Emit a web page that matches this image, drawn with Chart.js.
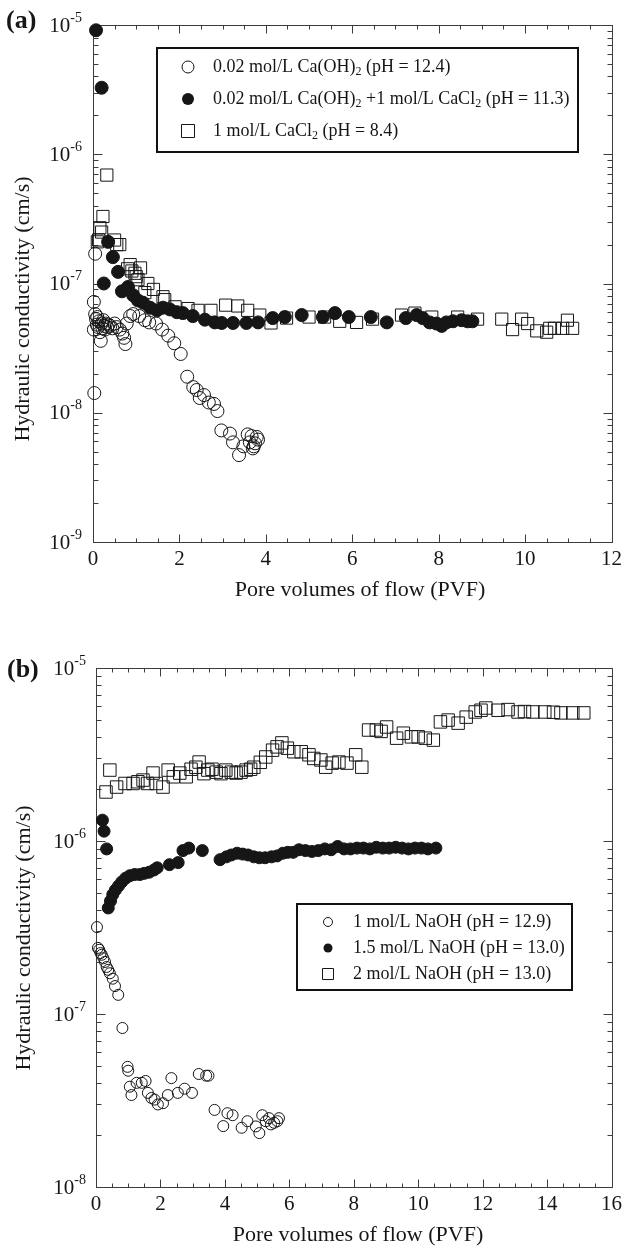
<!DOCTYPE html>
<html>
<head>
<meta charset="utf-8">
<script src="https://cdn.jsdelivr.net/npm/chart.js@4.4.1/dist/chart.umd.min.js"></script>
<style>
  html, body { margin: 0; padding: 0; background: #fff; }
  #boxA { position: absolute; left: 0; top: 0; width: 627px; height: 610px; }
  #boxB { position: absolute; left: 0; top: 610px; width: 627px; height: 637px; }
</style>
</head>
<body>
<div id="boxA"><canvas id="chartA"></canvas></div>
<div id="boxB"><canvas id="chartB"></canvas></div>
<script>
// ---- panel (a): Ca(OH)2 / CaCl2 permeants ----
const labelsA = [
  '0.02 mol/L Ca(OH)_{2} (pH = 12.4)',
  '0.02 mol/L Ca(OH)_{2} +1 mol/L CaCl_{2} (pH = 11.3)',
  '1 mol/L CaCl_{2} (pH = 8.4)'
];
const pvfA1 = [0.02, 0.05, 0.03, 0.02, 0.05, 0.07, 0.09, 0.1, 0.12, 0.14,
  0.16, 0.18, 0.2, 0.22, 0.24, 0.26, 0.28, 0.3, 0.33, 0.36,
  0.4, 0.45, 0.5, 0.55, 0.62, 0.68, 0.72, 0.75, 0.78, 0.86,
  0.93, 1.07, 1.2, 1.3, 1.46, 1.6, 1.74, 1.88, 2.03, 2.18, 2.32,
  2.4, 2.47, 2.57, 2.68, 2.8, 2.88, 2.97, 3.17, 3.24, 3.38,
  3.48, 3.58, 3.63, 3.67, 3.7, 3.72, 3.75, 3.79, 3.82];
const kA1 = [7.2e-8, 1.7e-7, 1.42e-8, 4.4e-8, 5.8e-8, 5.3e-8, 4.8e-8, 5.5e-8, 4.6e-8, 5.1e-8,
  4.2e-8, 3.6e-8, 4.9e-8, 4.5e-8, 5.2e-8, 4.7e-8, 4.4e-8, 4.9e-8, 4.6e-8, 4.8e-8,
  4.7e-8, 4.5e-8, 4.9e-8, 4.6e-8, 4.4e-8, 4.1e-8, 3.8e-8, 3.4e-8, 4.9e-8, 5.6e-8,
  5.8e-8, 5.6e-8, 5.2e-8, 5.0e-8, 4.9e-8, 4.4e-8, 3.95e-8, 3.45e-8, 2.85e-8, 1.9e-8, 1.58e-8,
  1.5e-8, 1.3e-8, 1.37e-8, 1.2e-8, 1.17e-8, 1.03e-8, 7.3e-9, 6.9e-9, 5.9e-9, 4.7e-9,
  5.5e-9, 6.8e-9, 5.9e-9, 6.6e-9, 5.3e-9, 5.5e-9, 5.8e-9, 6.5e-9, 6.2e-9];
const pvfA2 = [0.07, 0.2, 0.25, 0.35, 0.46, 0.58, 0.67, 0.81, 0.93, 1.04,
  1.16, 1.32, 1.48, 1.62, 1.78, 1.94, 2.08, 2.31, 2.59, 2.82,
  2.98, 3.24, 3.55, 3.82, 4.16, 4.44, 4.83, 5.32, 5.6, 5.92,
  6.43, 6.8, 7.24, 7.49, 7.63, 7.79, 7.95, 8.07, 8.18, 8.33,
  8.53, 8.67, 8.78];
const kA2 = [9.1e-6, 3.27e-6, 1.0e-7, 2.1e-7, 1.6e-7, 1.23e-7, 8.7e-8, 9.4e-8, 8.1e-8, 7.4e-8,
  7.1e-8, 6.5e-8, 6.2e-8, 6.5e-8, 6.3e-8, 6.0e-8, 5.9e-8, 5.6e-8, 5.25e-8, 5.0e-8,
  4.95e-8, 4.95e-8, 4.95e-8, 5.0e-8, 5.4e-8, 5.5e-8, 5.7e-8, 5.5e-8, 5.9e-8, 5.5e-8,
  5.5e-8, 5.0e-8, 5.4e-8, 5.7e-8, 5.4e-8, 5.0e-8, 4.9e-8, 4.7e-8, 5.0e-8, 5.1e-8,
  5.2e-8, 5.1e-8, 5.1e-8];
const pvfA3 = [0.1, 0.13, 0.16, 0.2, 0.23, 0.32, 0.5, 0.55, 0.62, 0.8,
  0.86, 0.9, 0.97, 1.0, 1.04, 1.1, 1.2, 1.27, 1.4, 1.62,
  1.66, 1.9, 2.2, 2.43, 2.73, 3.07, 3.35, 3.58, 3.86, 4.12,
  4.48, 5.0, 5.36, 5.71, 6.1, 6.47, 7.14, 7.45, 7.84, 8.44,
  8.9, 9.46, 9.71, 9.92, 10.06, 10.27, 10.5, 10.57, 10.68, 10.87,
  10.98, 11.1];
const kA3 = [2.1e-7, 2.17e-7, 2.7e-7, 2.5e-7, 3.3e-7, 6.9e-7, 2.17e-7, 2.0e-7, 2.0e-7, 1.3e-7,
  1.4e-7, 1.25e-7, 1.2e-7, 1.13e-7, 1.07e-7, 1.32e-7, 8.5e-8, 1.0e-7, 9.0e-8, 7.9e-8,
  7.5e-8, 6.6e-8, 6.4e-8, 6.2e-8, 6.2e-8, 6.8e-8, 6.7e-8, 6.2e-8, 5.7e-8, 4.95e-8,
  5.4e-8, 5.5e-8, 5.5e-8, 5.1e-8, 5.0e-8, 5.3e-8, 5.7e-8, 5.9e-8, 5.5e-8, 5.5e-8,
  5.3e-8, 5.3e-8, 4.4e-8, 5.3e-8, 4.9e-8, 4.3e-8, 4.2e-8, 4.5e-8, 4.5e-8, 4.5e-8,
  5.2e-8, 4.5e-8];
const decadesA = [-9, -8, -7, -6, -5];

// ---- panel (b): NaOH permeants ----
const labelsB = [
  '1 mol/L NaOH (pH = 12.9)',
  '1.5 mol/L NaOH (pH = 13.0)',
  '2 mol/L NaOH (pH = 13.0)'
];
const pvfB1 = [0.03, 0.06, 0.1, 0.14, 0.18, 0.23, 0.28, 0.33, 0.38, 0.43,
  0.52, 0.59, 0.69, 0.82, 0.98, 1.0, 1.05, 1.1, 1.26, 1.42,
  1.54, 1.61, 1.72, 1.82, 1.92, 2.08, 2.23, 2.34, 2.54, 2.75,
  2.98, 3.19, 3.42, 3.49, 3.68, 3.95, 4.08, 4.24, 4.52, 4.7,
  4.96, 5.07, 5.16, 5.27, 5.37, 5.43, 5.53, 5.63, 5.68];
const kB1 = [3.18e-7, 2.41e-7, 2.35e-7, 2.25e-7, 2.2e-7, 2.1e-7, 2.0e-7, 1.87e-7, 1.8e-7, 1.72e-7,
  1.6e-7, 1.45e-7, 1.29e-7, 8.3e-8, 4.95e-8, 4.7e-8, 3.8e-8, 3.4e-8, 4.0e-8, 4.0e-8,
  4.1e-8, 3.5e-8, 3.27e-8, 3.2e-8, 3.0e-8, 3.05e-8, 3.4e-8, 4.26e-8, 3.5e-8, 3.7e-8,
  3.5e-8, 4.5e-8, 4.4e-8, 4.4e-8, 2.79e-8, 2.25e-8, 2.67e-8, 2.6e-8, 2.2e-8, 2.4e-8,
  2.24e-8, 2.05e-8, 2.6e-8, 2.4e-8, 2.5e-8, 2.3e-8, 2.35e-8, 2.4e-8, 2.5e-8];
const pvfB2 = [0.2, 0.25, 0.33, 0.38, 0.45, 0.52, 0.6, 0.7, 0.8, 0.92,
  1.05, 1.2, 1.36, 1.5, 1.65, 1.8, 1.9, 2.28, 2.55, 2.7,
  2.88, 3.3, 3.85, 4.05, 4.2, 4.38, 4.55, 4.72, 4.9, 5.07,
  5.25, 5.45, 5.62, 5.8, 5.95, 6.12, 6.3, 6.5, 6.7, 6.9,
  7.1, 7.3, 7.5, 7.7, 7.9, 8.1, 8.3, 8.5, 8.7, 8.9,
  9.1, 9.3, 9.5, 9.7, 9.9, 10.1, 10.3, 10.55];
const kB2 = [1.32e-6, 1.14e-6, 9.0e-7, 4.1e-7, 4.5e-7, 4.9e-7, 5.2e-7, 5.5e-7, 5.8e-7, 6.1e-7,
  6.3e-7, 6.4e-7, 6.4e-7, 6.5e-7, 6.6e-7, 6.8e-7, 7.0e-7, 7.3e-7, 7.5e-7, 8.8e-7,
  9.1e-7, 8.8e-7, 7.8e-7, 8.1e-7, 8.3e-7, 8.5e-7, 8.4e-7, 8.3e-7, 8.1e-7, 8.0e-7,
  8.0e-7, 8.1e-7, 8.2e-7, 8.5e-7, 8.6e-7, 8.6e-7, 8.9e-7, 8.8e-7, 8.7e-7, 8.8e-7,
  9.0e-7, 8.9e-7, 9.3e-7, 9.0e-7, 9.0e-7, 9.1e-7, 9.1e-7, 9.0e-7, 9.2e-7, 9.1e-7,
  9.1e-7, 9.2e-7, 9.1e-7, 9.0e-7, 9.1e-7, 9.1e-7, 9.0e-7, 9.1e-7];
const pvfB3 = [0.31, 0.43, 0.64, 0.9, 1.15, 1.3, 1.46, 1.6, 1.77, 1.87,
  2.08, 2.24, 2.4, 2.6, 2.8, 2.95, 3.1, 3.2, 3.35, 3.47,
  3.6, 3.73, 3.88, 4.03, 4.2, 4.35, 4.5, 4.66, 4.8, 4.9,
  5.1, 5.27, 5.48, 5.62, 5.77, 5.94, 6.14, 6.37, 6.61, 6.76,
  6.98, 7.13, 7.33, 7.54, 7.79, 8.06, 8.25, 8.46, 8.7, 8.85,
  9.02, 9.33, 9.54, 9.79, 10.0, 10.22, 10.47, 10.69, 10.93, 11.24,
  11.49, 11.77, 11.95, 12.1, 12.48, 12.79, 13.1, 13.3, 13.56, 13.93,
  14.2, 14.43, 14.8, 15.14];
const kB3 = [1.92e-6, 2.57e-6, 2.05e-6, 2.15e-6, 2.15e-6, 2.2e-6, 2.25e-6, 2.15e-6, 2.47e-6, 2.15e-6,
  2.05e-6, 2.57e-6, 2.35e-6, 2.47e-6, 2.35e-6, 2.6e-6, 2.67e-6, 2.86e-6, 2.45e-6, 2.57e-6,
  2.6e-6, 2.5e-6, 2.45e-6, 2.57e-6, 2.5e-6, 2.47e-6, 2.5e-6, 2.57e-6, 2.6e-6, 2.67e-6,
  2.85e-6, 3.06e-6, 3.35e-6, 3.5e-6, 3.69e-6, 3.44e-6, 3.28e-6, 3.28e-6, 3.15e-6, 3.0e-6,
  2.94e-6, 2.67e-6, 2.82e-6, 2.86e-6, 2.82e-6, 3.15e-6, 2.67e-6, 4.38e-6, 4.38e-6, 4.3e-6,
  4.56e-6, 3.93e-6, 4.2e-6, 4.0e-6, 4.0e-6, 3.93e-6, 3.83e-6, 4.88e-6, 5.0e-6, 4.8e-6,
  5.2e-6, 5.57e-6, 5.7e-6, 5.87e-6, 5.7e-6, 5.75e-6, 5.57e-6, 5.6e-6, 5.57e-6, 5.57e-6,
  5.55e-6, 5.5e-6, 5.5e-6, 5.5e-6];
const decadesB = [-8, -7, -6, -5];

const xTitle = 'Pore volumes of flow (PVF)';
const yTitle = 'Hydraulic conductivity (cm/s)';

const SERIF = '"Liberation Serif", "Times New Roman", Times, serif';
const INK = '#161616';

function pts(xs, ys) { return xs.map((v, i) => ({ x: v, y: ys[i] })); }
function plain(s) { return s.replace(/_\{(.*?)\}/g, (m, d) => String.fromCharCode(0x2080 + Number(d))); }

// "abc_{2} def" -> [['abc', false], ['2', true], [' def', false]]
function richParts(s) {
  return s.split(/_\{(.*?)\}/).map((t, i) => [t, i % 2 === 1]).filter(p => p[0] !== '');
}

function marker(ctx, kind, x, y, r) {
  ctx.beginPath();
  if (kind === 'square') ctx.rect(x - r, y - r, 2 * r, 2 * r);
  else ctx.arc(x, y, r, 0, Math.PI * 2);
  if (kind === 'filled') { ctx.fillStyle = INK; ctx.fill(); }
  else { ctx.lineWidth = 1; ctx.strokeStyle = INK; ctx.stroke(); }
}

const framePlugin = {
  id: 'frame',
  beforeDatasetsDraw(chart, args, o) {
    const { ctx, chartArea: a } = chart;
    const xs = chart.scales.x, ys = chart.scales.y;
    const L = Math.round(a.left) + 0.5, T = Math.round(a.top) + 0.5;
    const R = Math.round(a.right) + 0.5, B = Math.round(a.bottom) + 0.5;
    ctx.save();
    ctx.strokeStyle = '#3c3c3c';
    ctx.lineWidth = 1;
    ctx.strokeRect(L, T, R - L, B - T);
    ctx.beginPath();
    // inward x ticks, top and bottom
    for (let v = xs.min; v <= xs.max + 1e-9; v += o.xMinor) {
      const p = Math.round(xs.getPixelForValue(v)) + 0.5;
      const major = Math.abs(v / o.xMajor - Math.round(v / o.xMajor)) < 1e-6;
      const len = major ? 8 : 4;
      ctx.moveTo(p, B); ctx.lineTo(p, B - len);
      ctx.moveTo(p, T); ctx.lineTo(p, T + len);
    }
    // inward log ticks, left and right
    const dec = o.decades;
    dec.forEach((e, i) => {
      const last = i === dec.length - 1;
      for (let m = 1; m <= (last ? 1 : 9); m++) {
        const p = Math.round(ys.getPixelForValue(m * Math.pow(10, e))) + 0.5;
        const len = m === 1 ? 9 : 5;
        ctx.moveTo(L, p); ctx.lineTo(L + len, p);
        ctx.moveTo(R, p); ctx.lineTo(R - len, p);
      }
    });
    ctx.stroke();

    // y tick labels as 10 with superscript exponent
    ctx.fillStyle = INK;
    ctx.textBaseline = 'middle';
    ctx.textAlign = 'left';
    dec.forEach(e => {
      const p = ys.getPixelForValue(Math.pow(10, e));
      const ex = String(e);
      ctx.font = o.expSize + 'px ' + SERIF;
      const we = ctx.measureText(ex).width;
      ctx.font = o.tickSize + 'px ' + SERIF;
      const wb = ctx.measureText('10').width;
      const right = a.left - o.labelGap;
      ctx.fillText('10', right - we - wb, p + 1);
      ctx.font = o.expSize + 'px ' + SERIF;
      ctx.fillText(ex, right - we, p - 7);
    });

    // axis titles
    ctx.textAlign = 'center';
    ctx.font = o.titleSize + 'px ' + SERIF;
    ctx.fillText(xTitle, o.xTitlePos[0], o.xTitlePos[1]);
    ctx.save();
    ctx.translate(o.yTitlePos[0], o.yTitlePos[1]);
    ctx.rotate(-Math.PI / 2);
    ctx.fillText(yTitle, 0, 0);
    ctx.restore();

    // panel letter
    ctx.textAlign = 'left';
    ctx.font = 'bold ' + o.letterSize + 'px ' + SERIF;
    ctx.fillText(o.letter, o.letterPos[0], o.letterPos[1]);
    ctx.restore();
  },
  afterDatasetsDraw(chart, args, o) {
    const { ctx } = chart;
    const lg = o.legend;
    ctx.save();
    ctx.fillStyle = '#fff';
    ctx.fillRect(lg.box[0], lg.box[1], lg.box[2], lg.box[3]);
    ctx.lineWidth = 2;
    ctx.strokeStyle = '#111';
    ctx.strokeRect(lg.box[0], lg.box[1], lg.box[2], lg.box[3]);
    ctx.textBaseline = 'middle';
    ctx.textAlign = 'left';
    lg.labels.forEach((txt, i) => {
      const y = lg.rowY[i];
      const kind = lg.kinds[i];
      marker(ctx, kind, lg.markerX, y, kind === 'square' ? lg.sq : lg.r);
      let x = lg.textX;
      ctx.fillStyle = INK;
      richParts(txt).forEach(([t, sub]) => {
        const size = sub ? Math.round(lg.size * 0.66) : lg.size;
        ctx.font = size + 'px ' + SERIF;
        ctx.fillText(t, x, sub ? y + lg.size * 0.28 : y);
        x += ctx.measureText(t).width;
      });
    });
    ctx.restore();
  }
};

function dataset(label, xs, ys, kind, r) {
  return {
    label: plain(label),
    data: pts(xs, ys),
    pointStyle: kind === 'square' ? 'rect' : 'circle',
    pointRadius: r,
    pointBorderWidth: 1,
    pointBorderColor: INK,
    pointBackgroundColor: kind === 'filled' ? INK : 'rgba(255,255,255,0)',
    showLine: false,
    clip: false
  };
}

function makeChart(id, datasets, cfg) {
  return new Chart(document.getElementById(id), {
    type: 'scatter',
    data: { datasets },
    options: {
      responsive: true,
      maintainAspectRatio: false,
      animation: false,
      events: [],
      layout: { padding: cfg.pad },
      plugins: {
        legend: { display: false },
        tooltip: { enabled: false },
        frame: cfg.frame
      },
      scales: {
        x: {
          type: 'linear', min: 0, max: cfg.xMax,
          grid: { display: false, drawTicks: false },
          border: { display: false },
          ticks: {
            stepSize: 2, autoSkip: false, maxRotation: 0, padding: 5,
            color: INK, font: { family: SERIF, size: 21 }
          },
          afterFit: s => { s.height = cfg.xH; }
        },
        y: {
          type: 'logarithmic', min: cfg.yMin, max: cfg.yMax,
          grid: { display: false, drawTicks: false },
          border: { display: false },
          ticks: { display: false },
          afterFit: s => { s.width = cfg.yW; }
        }
      }
    },
    plugins: [framePlugin]
  });
}

makeChart('chartA', [
  dataset(labelsA[0], pvfA1, kA1, 'open', 6.5),
  dataset(labelsA[1], pvfA2, kA2, 'filled', 6.5),
  dataset(labelsA[2], pvfA3, kA3, 'square', 8.6)
], {
  pad: { left: 0, right: 15, top: 25, bottom: 0 },
  xMax: 12, yMin: 1e-9, yMax: 1e-5, xH: 68, yW: 93,
  frame: {
    xMajor: 2, xMinor: 0.5, decades: decadesA,
    tickSize: 21, expSize: 14, labelGap: 11, titleSize: 22,
    xTitlePos: [360, 590], yTitlePos: [23, 309],
    letter: '(a)', letterSize: 26, letterPos: [6, 21],
    legend: {
      box: [157, 48, 421, 104], rowY: [67, 99, 131], markerX: 188, textX: 213,
      r: 6, sq: 6.5, size: 18, labels: labelsA, kinds: ['open', 'filled', 'square']
    }
  }
});

makeChart('chartB', [
  dataset(labelsB[0], pvfB1, kB1, 'open', 5.5),
  dataset(labelsB[1], pvfB2, kB2, 'filled', 6),
  dataset(labelsB[2], pvfB3, kB3, 'square', 8.8)
], {
  pad: { left: 0, right: 13, top: 58, bottom: 0 },
  xMax: 16, yMin: 1e-8, yMax: 1e-5, xH: 60, yW: 96,
  frame: {
    xMajor: 2, xMinor: 0.5, decades: decadesB,
    tickSize: 21, expSize: 14, labelGap: 10, titleSize: 22,
    xTitlePos: [358, 625], yTitlePos: [24, 328],
    letter: '(b)', letterSize: 26, letterPos: [7, 60],
    legend: {
      box: [297, 294, 275, 86], rowY: [312, 338, 364], markerX: 328, textX: 353,
      r: 4.5, sq: 5.5, size: 18, labels: labelsB, kinds: ['open', 'filled', 'square']
    }
  }
});
</script>
</body>
</html>
